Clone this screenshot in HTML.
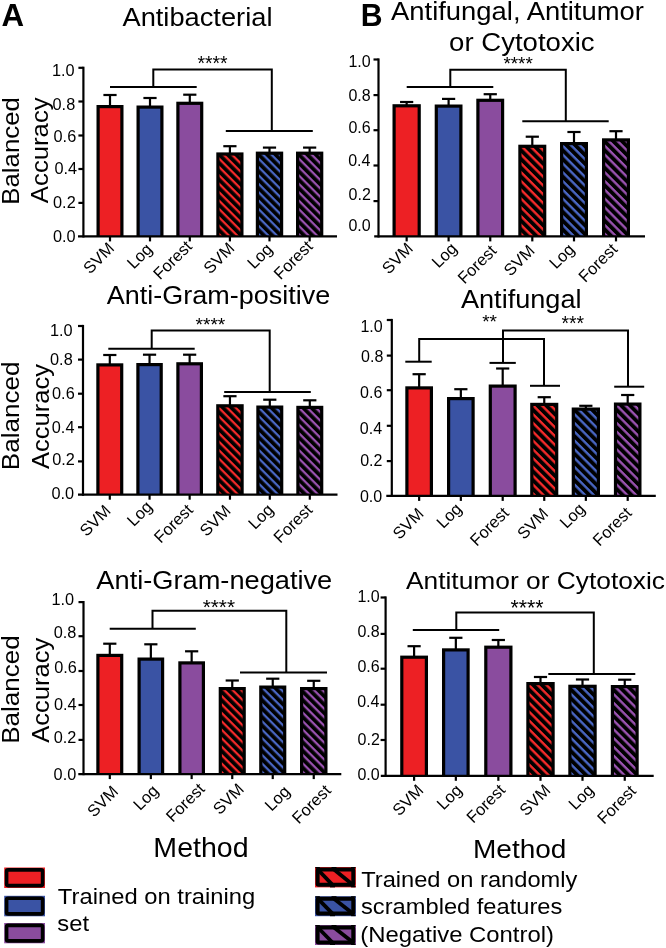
<!DOCTYPE html>
<html><head><meta charset="utf-8"><style>
html,body{margin:0;padding:0;background:#fff;}
svg{display:block;will-change:transform;}
</style></head><body>
<svg width="666" height="948" viewBox="0 0 666 948" font-family='"Liberation Sans", sans-serif' fill="#000">
<defs>
</defs>
<rect width="666" height="948" fill="#fff"/>
<rect x="96.50" y="105.00" width="27.00" height="131.40" fill="#000"/>
<rect x="99.70" y="108.20" width="20.60" height="128.20" fill="#ED2024"/>
<line x1="110.00" y1="95.00" x2="110.00" y2="106.00" stroke="#000" stroke-width="2.2"/>
<line x1="103.40" y1="95.00" x2="116.60" y2="95.00" stroke="#000" stroke-width="2.2"/>
<rect x="136.50" y="105.50" width="27.00" height="130.90" fill="#000"/>
<rect x="139.70" y="108.70" width="20.60" height="127.70" fill="#3A53A4"/>
<line x1="150.00" y1="98.00" x2="150.00" y2="106.50" stroke="#000" stroke-width="2.2"/>
<line x1="143.40" y1="98.00" x2="156.60" y2="98.00" stroke="#000" stroke-width="2.2"/>
<rect x="176.30" y="101.70" width="27.00" height="134.70" fill="#000"/>
<rect x="179.50" y="104.90" width="20.60" height="131.50" fill="#8A4C9E"/>
<line x1="189.80" y1="94.70" x2="189.80" y2="102.70" stroke="#000" stroke-width="2.2"/>
<line x1="183.20" y1="94.70" x2="196.40" y2="94.70" stroke="#000" stroke-width="2.2"/>
<rect x="216.30" y="152.40" width="27.20" height="84.00" fill="#000"/>
<pattern id="ha13" patternUnits="userSpaceOnUse" x="0" y="1.311" width="5.940" height="5.940" patternTransform="translate(216.30 236.40) rotate(45)"><rect width="5.940" height="5.940" fill="#000"/><rect y="0" width="5.940" height="2.257" fill="#F52A2A"/></pattern>
<rect x="219.50" y="155.60" width="20.80" height="80.80" fill="url(#ha13)"/>
<line x1="229.90" y1="146.20" x2="229.90" y2="153.40" stroke="#000" stroke-width="2.2"/>
<line x1="223.30" y1="146.20" x2="236.50" y2="146.20" stroke="#000" stroke-width="2.2"/>
<rect x="255.80" y="151.60" width="27.40" height="84.80" fill="#000"/>
<pattern id="ha14" patternUnits="userSpaceOnUse" x="0" y="1.311" width="5.940" height="5.940" patternTransform="translate(255.80 236.40) rotate(45)"><rect width="5.940" height="5.940" fill="#000"/><rect y="0" width="5.940" height="2.257" fill="#4A67C4"/></pattern>
<rect x="259.00" y="154.80" width="21.00" height="81.60" fill="url(#ha14)"/>
<line x1="269.50" y1="147.60" x2="269.50" y2="152.60" stroke="#000" stroke-width="2.2"/>
<line x1="262.90" y1="147.60" x2="276.10" y2="147.60" stroke="#000" stroke-width="2.2"/>
<rect x="296.00" y="151.60" width="27.30" height="84.80" fill="#000"/>
<pattern id="ha15" patternUnits="userSpaceOnUse" x="0" y="1.311" width="5.940" height="5.940" patternTransform="translate(296.00 236.40) rotate(45)"><rect width="5.940" height="5.940" fill="#000"/><rect y="0" width="5.940" height="2.257" fill="#9A52B0"/></pattern>
<rect x="299.20" y="154.80" width="20.90" height="81.60" fill="url(#ha15)"/>
<line x1="309.65" y1="147.60" x2="309.65" y2="152.60" stroke="#000" stroke-width="2.2"/>
<line x1="303.05" y1="147.60" x2="316.25" y2="147.60" stroke="#000" stroke-width="2.2"/>
<line x1="83.40" y1="66.70" x2="83.40" y2="237.50" stroke="#000" stroke-width="2.2"/>
<line x1="78.00" y1="236.40" x2="337.00" y2="236.40" stroke="#000" stroke-width="2.2"/>
<line x1="78.40" y1="202.90" x2="83.40" y2="202.90" stroke="#000" stroke-width="2.2"/>
<line x1="78.40" y1="169.00" x2="83.40" y2="169.00" stroke="#000" stroke-width="2.2"/>
<line x1="78.40" y1="135.50" x2="83.40" y2="135.50" stroke="#000" stroke-width="2.2"/>
<line x1="78.40" y1="101.50" x2="83.40" y2="101.50" stroke="#000" stroke-width="2.2"/>
<line x1="78.40" y1="67.80" x2="83.40" y2="67.80" stroke="#000" stroke-width="2.2"/>
<line x1="110.00" y1="236.40" x2="110.00" y2="241.40" stroke="#000" stroke-width="2.2"/>
<line x1="150.00" y1="236.40" x2="150.00" y2="241.40" stroke="#000" stroke-width="2.2"/>
<line x1="189.80" y1="236.40" x2="189.80" y2="241.40" stroke="#000" stroke-width="2.2"/>
<line x1="229.90" y1="236.40" x2="229.90" y2="241.40" stroke="#000" stroke-width="2.2"/>
<line x1="269.50" y1="236.40" x2="269.50" y2="241.40" stroke="#000" stroke-width="2.2"/>
<line x1="309.65" y1="236.40" x2="309.65" y2="241.40" stroke="#000" stroke-width="2.2"/>
<text x="52.88" y="241.69" font-size="16.3">0.0</text>
<text x="53.06" y="207.79" font-size="16.3">0.2</text>
<text x="54.42" y="174.29" font-size="16.3">0.4</text>
<text x="53.56" y="141.89" font-size="16.3">0.6</text>
<text x="52.55" y="109.59" font-size="16.3">0.8</text>
<text x="51.98" y="75.69" font-size="16.3">1.0</text>
<text x="115.30" y="249.40" font-size="16.5" text-anchor="end" transform="rotate(-45 115.30 249.40)">SVM</text>
<text x="153.30" y="250.20" font-size="16.5" text-anchor="end" transform="rotate(-45 153.30 250.20)">Log</text>
<text x="193.00" y="247.40" font-size="16.5" text-anchor="end" transform="rotate(-45 193.00 247.40)">Forest</text>
<text x="235.50" y="249.40" font-size="16.5" text-anchor="end" transform="rotate(-45 235.50 249.40)">SVM</text>
<text x="273.40" y="250.20" font-size="16.5" text-anchor="end" transform="rotate(-45 273.40 250.20)">Log</text>
<text x="313.65" y="247.40" font-size="16.5" text-anchor="end" transform="rotate(-45 313.65 247.40)">Forest</text>
<polyline points="110.00,87.00 196.70,87.00" fill="none" stroke="#000" stroke-width="2.0" stroke-linejoin="miter"/>
<polyline points="153.30,87.00 153.30,69.50 271.80,69.50 271.80,131.00" fill="none" stroke="#000" stroke-width="2.0" stroke-linejoin="miter"/>
<polyline points="225.80,131.00 312.80,131.00" fill="none" stroke="#000" stroke-width="2.0" stroke-linejoin="miter"/>
<text x="197.39" y="70.24" font-size="19.41">****</text>
<rect x="96.30" y="363.30" width="27.00" height="131.40" fill="#000"/>
<rect x="99.50" y="366.50" width="20.60" height="128.20" fill="#ED2024"/>
<line x1="109.80" y1="355.00" x2="109.80" y2="364.30" stroke="#000" stroke-width="2.2"/>
<line x1="103.20" y1="355.00" x2="116.40" y2="355.00" stroke="#000" stroke-width="2.2"/>
<rect x="136.30" y="363.00" width="26.50" height="131.70" fill="#000"/>
<rect x="139.50" y="366.20" width="20.10" height="128.50" fill="#3A53A4"/>
<line x1="149.55" y1="354.70" x2="149.55" y2="364.00" stroke="#000" stroke-width="2.2"/>
<line x1="142.95" y1="354.70" x2="156.15" y2="354.70" stroke="#000" stroke-width="2.2"/>
<rect x="176.30" y="362.20" width="26.70" height="132.50" fill="#000"/>
<rect x="179.50" y="365.40" width="20.30" height="129.30" fill="#8A4C9E"/>
<line x1="189.65" y1="354.70" x2="189.65" y2="363.20" stroke="#000" stroke-width="2.2"/>
<line x1="183.05" y1="354.70" x2="196.25" y2="354.70" stroke="#000" stroke-width="2.2"/>
<rect x="216.20" y="404.20" width="27.50" height="90.50" fill="#000"/>
<pattern id="ha23" patternUnits="userSpaceOnUse" x="0" y="1.304" width="5.975" height="5.975" patternTransform="translate(216.20 494.70) rotate(45)"><rect width="5.975" height="5.975" fill="#000"/><rect y="0" width="5.975" height="2.271" fill="#F52A2A"/></pattern>
<rect x="219.40" y="407.40" width="21.10" height="87.30" fill="url(#ha23)"/>
<line x1="229.95" y1="396.20" x2="229.95" y2="405.20" stroke="#000" stroke-width="2.2"/>
<line x1="223.35" y1="396.20" x2="236.55" y2="396.20" stroke="#000" stroke-width="2.2"/>
<rect x="256.30" y="405.50" width="27.00" height="89.20" fill="#000"/>
<pattern id="ha24" patternUnits="userSpaceOnUse" x="0" y="1.304" width="5.975" height="5.975" patternTransform="translate(256.30 494.70) rotate(45)"><rect width="5.975" height="5.975" fill="#000"/><rect y="0" width="5.975" height="2.271" fill="#4A67C4"/></pattern>
<rect x="259.50" y="408.70" width="20.60" height="86.00" fill="url(#ha24)"/>
<line x1="269.80" y1="399.70" x2="269.80" y2="406.50" stroke="#000" stroke-width="2.2"/>
<line x1="263.20" y1="399.70" x2="276.40" y2="399.70" stroke="#000" stroke-width="2.2"/>
<rect x="296.30" y="405.80" width="27.00" height="88.90" fill="#000"/>
<pattern id="ha25" patternUnits="userSpaceOnUse" x="0" y="1.304" width="5.975" height="5.975" patternTransform="translate(296.30 494.70) rotate(45)"><rect width="5.975" height="5.975" fill="#000"/><rect y="0" width="5.975" height="2.271" fill="#9A52B0"/></pattern>
<rect x="299.50" y="409.00" width="20.60" height="85.70" fill="url(#ha25)"/>
<line x1="309.80" y1="400.30" x2="309.80" y2="406.80" stroke="#000" stroke-width="2.2"/>
<line x1="303.20" y1="400.30" x2="316.40" y2="400.30" stroke="#000" stroke-width="2.2"/>
<line x1="83.00" y1="324.90" x2="83.00" y2="495.80" stroke="#000" stroke-width="2.2"/>
<line x1="78.00" y1="494.70" x2="337.50" y2="494.70" stroke="#000" stroke-width="2.2"/>
<line x1="78.00" y1="461.40" x2="83.00" y2="461.40" stroke="#000" stroke-width="2.2"/>
<line x1="78.00" y1="427.20" x2="83.00" y2="427.20" stroke="#000" stroke-width="2.2"/>
<line x1="78.00" y1="393.70" x2="83.00" y2="393.70" stroke="#000" stroke-width="2.2"/>
<line x1="78.00" y1="359.60" x2="83.00" y2="359.60" stroke="#000" stroke-width="2.2"/>
<line x1="78.00" y1="326.00" x2="83.00" y2="326.00" stroke="#000" stroke-width="2.2"/>
<line x1="109.80" y1="494.70" x2="109.80" y2="499.70" stroke="#000" stroke-width="2.2"/>
<line x1="149.55" y1="494.70" x2="149.55" y2="499.70" stroke="#000" stroke-width="2.2"/>
<line x1="189.65" y1="494.70" x2="189.65" y2="499.70" stroke="#000" stroke-width="2.2"/>
<line x1="229.95" y1="494.70" x2="229.95" y2="499.70" stroke="#000" stroke-width="2.2"/>
<line x1="269.80" y1="494.70" x2="269.80" y2="499.70" stroke="#000" stroke-width="2.2"/>
<line x1="309.80" y1="494.70" x2="309.80" y2="499.70" stroke="#000" stroke-width="2.2"/>
<text x="51.48" y="499.09" font-size="16.3">0.0</text>
<text x="52.16" y="464.69" font-size="16.3">0.2</text>
<text x="51.82" y="432.89" font-size="16.3">0.4</text>
<text x="52.06" y="398.59" font-size="16.3">0.6</text>
<text x="50.05" y="364.59" font-size="16.3">0.8</text>
<text x="49.98" y="335.69" font-size="16.3">1.0</text>
<text x="111.80" y="511.90" font-size="16.5" text-anchor="end" transform="rotate(-45 111.80 511.90)">SVM</text>
<text x="153.25" y="507.70" font-size="16.5" text-anchor="end" transform="rotate(-45 153.25 507.70)">Log</text>
<text x="193.92" y="510.90" font-size="16.5" text-anchor="end" transform="rotate(-45 193.92 510.90)">Forest</text>
<text x="231.85" y="511.90" font-size="16.5" text-anchor="end" transform="rotate(-45 231.85 511.90)">SVM</text>
<text x="274.50" y="510.70" font-size="16.5" text-anchor="end" transform="rotate(-45 274.50 510.70)">Log</text>
<text x="313.40" y="510.90" font-size="16.5" text-anchor="end" transform="rotate(-45 313.40 510.90)">Forest</text>
<polyline points="108.30,348.70 194.70,348.70" fill="none" stroke="#000" stroke-width="2.0" stroke-linejoin="miter"/>
<polyline points="151.70,348.70 151.70,330.50 269.70,330.50 269.70,392.00" fill="none" stroke="#000" stroke-width="2.0" stroke-linejoin="miter"/>
<polyline points="224.20,392.00 310.80,392.00" fill="none" stroke="#000" stroke-width="2.0" stroke-linejoin="miter"/>
<text x="195.49" y="331.45" font-size="19.15">****</text>
<rect x="96.30" y="653.80" width="27.00" height="120.30" fill="#000"/>
<rect x="99.50" y="657.00" width="20.60" height="117.10" fill="#ED2024"/>
<line x1="109.80" y1="643.70" x2="109.80" y2="654.80" stroke="#000" stroke-width="2.2"/>
<line x1="103.20" y1="643.70" x2="116.40" y2="643.70" stroke="#000" stroke-width="2.2"/>
<rect x="137.50" y="657.50" width="26.70" height="116.60" fill="#000"/>
<rect x="140.70" y="660.70" width="20.30" height="113.40" fill="#3A53A4"/>
<line x1="150.85" y1="644.30" x2="150.85" y2="658.50" stroke="#000" stroke-width="2.2"/>
<line x1="144.25" y1="644.30" x2="157.45" y2="644.30" stroke="#000" stroke-width="2.2"/>
<rect x="178.30" y="661.30" width="26.70" height="112.80" fill="#000"/>
<rect x="181.50" y="664.50" width="20.30" height="109.60" fill="#8A4C9E"/>
<line x1="191.65" y1="651.30" x2="191.65" y2="662.30" stroke="#000" stroke-width="2.2"/>
<line x1="185.05" y1="651.30" x2="198.25" y2="651.30" stroke="#000" stroke-width="2.2"/>
<rect x="218.70" y="687.00" width="27.10" height="87.10" fill="#000"/>
<pattern id="ha33" patternUnits="userSpaceOnUse" x="0" y="1.304" width="5.975" height="5.975" patternTransform="translate(218.70 774.10) rotate(45)"><rect width="5.975" height="5.975" fill="#000"/><rect y="0" width="5.975" height="2.271" fill="#F52A2A"/></pattern>
<rect x="221.90" y="690.20" width="20.70" height="83.90" fill="url(#ha33)"/>
<line x1="232.25" y1="680.50" x2="232.25" y2="688.00" stroke="#000" stroke-width="2.2"/>
<line x1="225.65" y1="680.50" x2="238.85" y2="680.50" stroke="#000" stroke-width="2.2"/>
<rect x="259.20" y="685.50" width="27.10" height="88.60" fill="#000"/>
<pattern id="ha34" patternUnits="userSpaceOnUse" x="0" y="1.304" width="5.975" height="5.975" patternTransform="translate(259.20 774.10) rotate(45)"><rect width="5.975" height="5.975" fill="#000"/><rect y="0" width="5.975" height="2.271" fill="#4A67C4"/></pattern>
<rect x="262.40" y="688.70" width="20.70" height="85.40" fill="url(#ha34)"/>
<line x1="272.75" y1="678.70" x2="272.75" y2="686.50" stroke="#000" stroke-width="2.2"/>
<line x1="266.15" y1="678.70" x2="279.35" y2="678.70" stroke="#000" stroke-width="2.2"/>
<rect x="300.00" y="687.00" width="27.50" height="87.10" fill="#000"/>
<pattern id="ha35" patternUnits="userSpaceOnUse" x="0" y="1.304" width="5.975" height="5.975" patternTransform="translate(300.00 774.10) rotate(45)"><rect width="5.975" height="5.975" fill="#000"/><rect y="0" width="5.975" height="2.271" fill="#9A52B0"/></pattern>
<rect x="303.20" y="690.20" width="21.10" height="83.90" fill="url(#ha35)"/>
<line x1="313.75" y1="680.80" x2="313.75" y2="688.00" stroke="#000" stroke-width="2.2"/>
<line x1="307.15" y1="680.80" x2="320.35" y2="680.80" stroke="#000" stroke-width="2.2"/>
<line x1="83.50" y1="601.00" x2="83.50" y2="775.20" stroke="#000" stroke-width="2.2"/>
<line x1="78.30" y1="774.10" x2="341.30" y2="774.10" stroke="#000" stroke-width="2.2"/>
<line x1="78.50" y1="739.90" x2="83.50" y2="739.90" stroke="#000" stroke-width="2.2"/>
<line x1="78.50" y1="705.00" x2="83.50" y2="705.00" stroke="#000" stroke-width="2.2"/>
<line x1="78.50" y1="671.00" x2="83.50" y2="671.00" stroke="#000" stroke-width="2.2"/>
<line x1="78.50" y1="636.20" x2="83.50" y2="636.20" stroke="#000" stroke-width="2.2"/>
<line x1="78.50" y1="602.10" x2="83.50" y2="602.10" stroke="#000" stroke-width="2.2"/>
<line x1="109.80" y1="774.10" x2="109.80" y2="779.10" stroke="#000" stroke-width="2.2"/>
<line x1="150.85" y1="774.10" x2="150.85" y2="779.10" stroke="#000" stroke-width="2.2"/>
<line x1="191.65" y1="774.10" x2="191.65" y2="779.10" stroke="#000" stroke-width="2.2"/>
<line x1="232.25" y1="774.10" x2="232.25" y2="779.10" stroke="#000" stroke-width="2.2"/>
<line x1="272.75" y1="774.10" x2="272.75" y2="779.10" stroke="#000" stroke-width="2.2"/>
<line x1="313.75" y1="774.10" x2="313.75" y2="779.10" stroke="#000" stroke-width="2.2"/>
<text x="53.58" y="780.39" font-size="16.3">0.0</text>
<text x="53.76" y="742.89" font-size="16.3">0.2</text>
<text x="53.92" y="709.69" font-size="16.3">0.4</text>
<text x="54.16" y="673.19" font-size="16.3">0.6</text>
<text x="53.65" y="637.89" font-size="16.3">0.8</text>
<text x="51.48" y="604.69" font-size="16.3">1.0</text>
<text x="119.30" y="792.60" font-size="16.5" text-anchor="end" transform="rotate(-45 119.30 792.60)">SVM</text>
<text x="159.45" y="791.80" font-size="16.5" text-anchor="end" transform="rotate(-45 159.45 791.80)">Log</text>
<text x="205.75" y="790.00" font-size="16.5" text-anchor="end" transform="rotate(-45 205.75 790.00)">Forest</text>
<text x="245.05" y="790.20" font-size="16.5" text-anchor="end" transform="rotate(-45 245.05 790.20)">SVM</text>
<text x="290.95" y="792.60" font-size="16.5" text-anchor="end" transform="rotate(-45 290.95 792.60)">Log</text>
<text x="331.95" y="791.60" font-size="16.5" text-anchor="end" transform="rotate(-45 331.95 791.60)">Forest</text>
<polyline points="109.70,628.70 195.80,628.70" fill="none" stroke="#000" stroke-width="2.0" stroke-linejoin="miter"/>
<polyline points="152.50,628.70 152.50,610.80 286.30,610.80 286.30,672.50" fill="none" stroke="#000" stroke-width="2.0" stroke-linejoin="miter"/>
<polyline points="240.00,672.50 327.00,672.50" fill="none" stroke="#000" stroke-width="2.0" stroke-linejoin="miter"/>
<text x="202.67" y="613.60" font-size="20.79">****</text>
<rect x="392.50" y="104.20" width="28.30" height="132.20" fill="#000"/>
<rect x="395.70" y="107.40" width="21.90" height="129.00" fill="#ED2024"/>
<line x1="406.65" y1="102.00" x2="406.65" y2="105.20" stroke="#000" stroke-width="2.2"/>
<line x1="400.05" y1="102.00" x2="413.25" y2="102.00" stroke="#000" stroke-width="2.2"/>
<rect x="434.70" y="104.50" width="27.80" height="131.90" fill="#000"/>
<rect x="437.90" y="107.70" width="21.40" height="128.70" fill="#3A53A4"/>
<line x1="448.60" y1="98.90" x2="448.60" y2="105.50" stroke="#000" stroke-width="2.2"/>
<line x1="442.00" y1="98.90" x2="455.20" y2="98.90" stroke="#000" stroke-width="2.2"/>
<rect x="476.30" y="98.70" width="27.90" height="137.70" fill="#000"/>
<rect x="479.50" y="101.90" width="21.50" height="134.50" fill="#8A4C9E"/>
<line x1="490.25" y1="94.20" x2="490.25" y2="99.70" stroke="#000" stroke-width="2.2"/>
<line x1="483.65" y1="94.20" x2="496.85" y2="94.20" stroke="#000" stroke-width="2.2"/>
<rect x="518.30" y="144.70" width="28.00" height="91.70" fill="#000"/>
<pattern id="hb13" patternUnits="userSpaceOnUse" x="0" y="1.257" width="6.223" height="6.223" patternTransform="translate(518.30 236.40) rotate(45)"><rect width="6.223" height="6.223" fill="#000"/><rect y="0" width="6.223" height="2.365" fill="#F52A2A"/></pattern>
<rect x="521.50" y="147.90" width="21.60" height="88.50" fill="url(#hb13)"/>
<line x1="532.30" y1="136.70" x2="532.30" y2="145.70" stroke="#000" stroke-width="2.2"/>
<line x1="525.70" y1="136.70" x2="538.90" y2="136.70" stroke="#000" stroke-width="2.2"/>
<rect x="560.00" y="142.00" width="28.00" height="94.40" fill="#000"/>
<pattern id="hb14" patternUnits="userSpaceOnUse" x="0" y="1.257" width="6.223" height="6.223" patternTransform="translate(560.00 236.40) rotate(45)"><rect width="6.223" height="6.223" fill="#000"/><rect y="0" width="6.223" height="2.365" fill="#4A67C4"/></pattern>
<rect x="563.20" y="145.20" width="21.60" height="91.20" fill="url(#hb14)"/>
<line x1="574.00" y1="132.00" x2="574.00" y2="143.00" stroke="#000" stroke-width="2.2"/>
<line x1="567.40" y1="132.00" x2="580.60" y2="132.00" stroke="#000" stroke-width="2.2"/>
<rect x="602.00" y="138.30" width="28.00" height="98.10" fill="#000"/>
<pattern id="hb15" patternUnits="userSpaceOnUse" x="0" y="1.257" width="6.223" height="6.223" patternTransform="translate(602.00 236.40) rotate(45)"><rect width="6.223" height="6.223" fill="#000"/><rect y="0" width="6.223" height="2.365" fill="#9A52B0"/></pattern>
<rect x="605.20" y="141.50" width="21.60" height="94.90" fill="url(#hb15)"/>
<line x1="616.00" y1="131.20" x2="616.00" y2="139.30" stroke="#000" stroke-width="2.2"/>
<line x1="609.40" y1="131.20" x2="622.60" y2="131.20" stroke="#000" stroke-width="2.2"/>
<line x1="378.50" y1="58.40" x2="378.50" y2="237.50" stroke="#000" stroke-width="2.2"/>
<line x1="374.20" y1="236.40" x2="645.00" y2="236.40" stroke="#000" stroke-width="2.2"/>
<line x1="373.50" y1="201.10" x2="378.50" y2="201.10" stroke="#000" stroke-width="2.2"/>
<line x1="373.50" y1="165.50" x2="378.50" y2="165.50" stroke="#000" stroke-width="2.2"/>
<line x1="373.50" y1="130.20" x2="378.50" y2="130.20" stroke="#000" stroke-width="2.2"/>
<line x1="373.50" y1="95.10" x2="378.50" y2="95.10" stroke="#000" stroke-width="2.2"/>
<line x1="373.50" y1="59.50" x2="378.50" y2="59.50" stroke="#000" stroke-width="2.2"/>
<line x1="406.65" y1="236.40" x2="406.65" y2="241.40" stroke="#000" stroke-width="2.2"/>
<line x1="448.60" y1="236.40" x2="448.60" y2="241.40" stroke="#000" stroke-width="2.2"/>
<line x1="490.25" y1="236.40" x2="490.25" y2="241.40" stroke="#000" stroke-width="2.2"/>
<line x1="532.30" y1="236.40" x2="532.30" y2="241.40" stroke="#000" stroke-width="2.2"/>
<line x1="574.00" y1="236.40" x2="574.00" y2="241.40" stroke="#000" stroke-width="2.2"/>
<line x1="616.00" y1="236.40" x2="616.00" y2="241.40" stroke="#000" stroke-width="2.2"/>
<text x="348.38" y="231.29" font-size="16">0.0</text>
<text x="348.56" y="200.19" font-size="16">0.2</text>
<text x="348.23" y="165.59" font-size="16">0.4</text>
<text x="348.46" y="133.19" font-size="16">0.6</text>
<text x="348.45" y="101.19" font-size="16">0.8</text>
<text x="348.38" y="67.39" font-size="16">1.0</text>
<text x="413.95" y="249.60" font-size="16.5" text-anchor="end" transform="rotate(-45 413.95 249.60)">SVM</text>
<text x="458.10" y="249.40" font-size="16.5" text-anchor="end" transform="rotate(-45 458.10 249.40)">Log</text>
<text x="497.55" y="251.80" font-size="16.5" text-anchor="end" transform="rotate(-45 497.55 251.80)">Forest</text>
<text x="535.80" y="251.80" font-size="16.5" text-anchor="end" transform="rotate(-45 535.80 251.80)">SVM</text>
<text x="575.40" y="250.40" font-size="16.5" text-anchor="end" transform="rotate(-45 575.40 250.40)">Log</text>
<text x="618.40" y="250.20" font-size="16.5" text-anchor="end" transform="rotate(-45 618.40 250.20)">Forest</text>
<polyline points="406.70,87.00 493.30,87.00" fill="none" stroke="#000" stroke-width="2.0" stroke-linejoin="miter"/>
<polyline points="450.30,87.00 450.30,69.70 565.80,69.70 565.80,121.30" fill="none" stroke="#000" stroke-width="2.0" stroke-linejoin="miter"/>
<polyline points="522.30,121.30 608.70,121.30" fill="none" stroke="#000" stroke-width="2.0" stroke-linejoin="miter"/>
<text x="503.40" y="70.16" font-size="18.89">****</text>
<rect x="405.30" y="386.30" width="27.70" height="109.60" fill="#000"/>
<rect x="408.50" y="389.50" width="21.30" height="106.40" fill="#ED2024"/>
<line x1="419.15" y1="374.20" x2="419.15" y2="387.30" stroke="#000" stroke-width="2.2"/>
<line x1="412.55" y1="374.20" x2="425.75" y2="374.20" stroke="#000" stroke-width="2.2"/>
<rect x="447.00" y="397.00" width="27.70" height="98.90" fill="#000"/>
<rect x="450.20" y="400.20" width="21.30" height="95.70" fill="#3A53A4"/>
<line x1="460.85" y1="389.20" x2="460.85" y2="398.00" stroke="#000" stroke-width="2.2"/>
<line x1="454.25" y1="389.20" x2="467.45" y2="389.20" stroke="#000" stroke-width="2.2"/>
<rect x="488.70" y="384.50" width="28.00" height="111.40" fill="#000"/>
<rect x="491.90" y="387.70" width="21.60" height="108.20" fill="#8A4C9E"/>
<line x1="502.70" y1="368.50" x2="502.70" y2="385.50" stroke="#000" stroke-width="2.2"/>
<line x1="496.10" y1="368.50" x2="509.30" y2="368.50" stroke="#000" stroke-width="2.2"/>
<rect x="530.20" y="402.80" width="28.10" height="93.10" fill="#000"/>
<pattern id="hb23" patternUnits="userSpaceOnUse" x="0" y="1.257" width="6.223" height="6.223" patternTransform="translate(530.20 495.90) rotate(45)"><rect width="6.223" height="6.223" fill="#000"/><rect y="0" width="6.223" height="2.365" fill="#F52A2A"/></pattern>
<rect x="533.40" y="406.00" width="21.70" height="89.90" fill="url(#hb23)"/>
<line x1="544.25" y1="397.20" x2="544.25" y2="403.80" stroke="#000" stroke-width="2.2"/>
<line x1="537.65" y1="397.20" x2="550.85" y2="397.20" stroke="#000" stroke-width="2.2"/>
<rect x="571.70" y="407.50" width="28.30" height="88.40" fill="#000"/>
<pattern id="hb24" patternUnits="userSpaceOnUse" x="0" y="1.257" width="6.223" height="6.223" patternTransform="translate(571.70 495.90) rotate(45)"><rect width="6.223" height="6.223" fill="#000"/><rect y="0" width="6.223" height="2.365" fill="#4A67C4"/></pattern>
<rect x="574.90" y="410.70" width="21.90" height="85.20" fill="url(#hb24)"/>
<line x1="585.85" y1="405.80" x2="585.85" y2="408.50" stroke="#000" stroke-width="2.2"/>
<line x1="579.25" y1="405.80" x2="592.45" y2="405.80" stroke="#000" stroke-width="2.2"/>
<rect x="613.90" y="402.50" width="27.60" height="93.40" fill="#000"/>
<pattern id="hb25" patternUnits="userSpaceOnUse" x="0" y="1.257" width="6.223" height="6.223" patternTransform="translate(613.90 495.90) rotate(45)"><rect width="6.223" height="6.223" fill="#000"/><rect y="0" width="6.223" height="2.365" fill="#9A52B0"/></pattern>
<rect x="617.10" y="405.70" width="21.20" height="90.20" fill="url(#hb25)"/>
<line x1="627.70" y1="395.00" x2="627.70" y2="403.50" stroke="#000" stroke-width="2.2"/>
<line x1="621.10" y1="395.00" x2="634.30" y2="395.00" stroke="#000" stroke-width="2.2"/>
<line x1="391.80" y1="318.90" x2="391.80" y2="497.00" stroke="#000" stroke-width="2.2"/>
<line x1="386.30" y1="495.90" x2="655.80" y2="495.90" stroke="#000" stroke-width="2.2"/>
<line x1="386.80" y1="461.10" x2="391.80" y2="461.10" stroke="#000" stroke-width="2.2"/>
<line x1="386.80" y1="425.80" x2="391.80" y2="425.80" stroke="#000" stroke-width="2.2"/>
<line x1="386.80" y1="390.20" x2="391.80" y2="390.20" stroke="#000" stroke-width="2.2"/>
<line x1="386.80" y1="355.60" x2="391.80" y2="355.60" stroke="#000" stroke-width="2.2"/>
<line x1="386.80" y1="320.00" x2="391.80" y2="320.00" stroke="#000" stroke-width="2.2"/>
<line x1="419.15" y1="495.90" x2="419.15" y2="500.90" stroke="#000" stroke-width="2.2"/>
<line x1="460.85" y1="495.90" x2="460.85" y2="500.90" stroke="#000" stroke-width="2.2"/>
<line x1="502.70" y1="495.90" x2="502.70" y2="500.90" stroke="#000" stroke-width="2.2"/>
<line x1="544.25" y1="495.90" x2="544.25" y2="500.90" stroke="#000" stroke-width="2.2"/>
<line x1="585.85" y1="495.90" x2="585.85" y2="500.90" stroke="#000" stroke-width="2.2"/>
<line x1="627.70" y1="495.90" x2="627.70" y2="500.90" stroke="#000" stroke-width="2.2"/>
<text x="359.88" y="502.29" font-size="16">0.0</text>
<text x="360.16" y="466.19" font-size="16">0.2</text>
<text x="359.83" y="433.59" font-size="16">0.4</text>
<text x="360.06" y="397.79" font-size="16">0.6</text>
<text x="361.05" y="362.19" font-size="16">0.8</text>
<text x="360.38" y="331.59" font-size="16">1.0</text>
<text x="424.75" y="514.90" font-size="16.5" text-anchor="end" transform="rotate(-45 424.75 514.90)">SVM</text>
<text x="462.75" y="509.90" font-size="16.5" text-anchor="end" transform="rotate(-45 462.75 509.90)">Log</text>
<text x="509.94" y="513.90" font-size="16.5" text-anchor="end" transform="rotate(-45 509.94 513.90)">Forest</text>
<text x="549.35" y="514.90" font-size="16.5" text-anchor="end" transform="rotate(-45 549.35 514.90)">SVM</text>
<text x="585.95" y="509.90" font-size="16.5" text-anchor="end" transform="rotate(-45 585.95 509.90)">Log</text>
<text x="632.67" y="513.90" font-size="16.5" text-anchor="end" transform="rotate(-45 632.67 513.90)">Forest</text>
<polyline points="405.30,361.70 431.70,361.70" fill="none" stroke="#000" stroke-width="2.0" stroke-linejoin="miter"/>
<polyline points="419.20,361.70 419.20,339.00 544.00,339.00 544.00,385.80" fill="none" stroke="#000" stroke-width="2.0" stroke-linejoin="miter"/>
<polyline points="530.00,385.80 560.00,385.80" fill="none" stroke="#000" stroke-width="2.0" stroke-linejoin="miter"/>
<polyline points="489.50,362.90 515.80,362.90" fill="none" stroke="#000" stroke-width="2.0" stroke-linejoin="miter"/>
<polyline points="503.00,362.90 503.00,330.40 628.00,330.40 628.00,386.70" fill="none" stroke="#000" stroke-width="2.0" stroke-linejoin="miter"/>
<polyline points="614.20,386.70 644.20,386.70" fill="none" stroke="#000" stroke-width="2.0" stroke-linejoin="miter"/>
<text x="482.19" y="328.01" font-size="19.02">**</text>
<text x="561.39" y="329.83" font-size="19.37">***</text>
<rect x="400.20" y="655.60" width="27.80" height="120.20" fill="#000"/>
<rect x="403.40" y="658.80" width="21.40" height="117.00" fill="#ED2024"/>
<line x1="414.10" y1="646.20" x2="414.10" y2="656.60" stroke="#000" stroke-width="2.2"/>
<line x1="407.50" y1="646.20" x2="420.70" y2="646.20" stroke="#000" stroke-width="2.2"/>
<rect x="442.00" y="648.30" width="27.70" height="127.50" fill="#000"/>
<rect x="445.20" y="651.50" width="21.30" height="124.30" fill="#3A53A4"/>
<line x1="455.85" y1="637.80" x2="455.85" y2="649.30" stroke="#000" stroke-width="2.2"/>
<line x1="449.25" y1="637.80" x2="462.45" y2="637.80" stroke="#000" stroke-width="2.2"/>
<rect x="484.20" y="645.60" width="28.30" height="130.20" fill="#000"/>
<rect x="487.40" y="648.80" width="21.90" height="127.00" fill="#8A4C9E"/>
<line x1="498.35" y1="640.00" x2="498.35" y2="646.60" stroke="#000" stroke-width="2.2"/>
<line x1="491.75" y1="640.00" x2="504.95" y2="640.00" stroke="#000" stroke-width="2.2"/>
<rect x="526.30" y="682.00" width="28.40" height="93.80" fill="#000"/>
<pattern id="hb33" patternUnits="userSpaceOnUse" x="0" y="1.257" width="6.223" height="6.223" patternTransform="translate(526.30 775.80) rotate(45)"><rect width="6.223" height="6.223" fill="#000"/><rect y="0" width="6.223" height="2.365" fill="#F52A2A"/></pattern>
<rect x="529.50" y="685.20" width="22.00" height="90.60" fill="url(#hb33)"/>
<line x1="540.50" y1="677.00" x2="540.50" y2="683.00" stroke="#000" stroke-width="2.2"/>
<line x1="533.90" y1="677.00" x2="547.10" y2="677.00" stroke="#000" stroke-width="2.2"/>
<rect x="568.30" y="684.70" width="28.40" height="91.10" fill="#000"/>
<pattern id="hb34" patternUnits="userSpaceOnUse" x="0" y="1.257" width="6.223" height="6.223" patternTransform="translate(568.30 775.80) rotate(45)"><rect width="6.223" height="6.223" fill="#000"/><rect y="0" width="6.223" height="2.365" fill="#4A67C4"/></pattern>
<rect x="571.50" y="687.90" width="22.00" height="87.90" fill="url(#hb34)"/>
<line x1="582.50" y1="679.50" x2="582.50" y2="685.70" stroke="#000" stroke-width="2.2"/>
<line x1="575.90" y1="679.50" x2="589.10" y2="679.50" stroke="#000" stroke-width="2.2"/>
<rect x="610.80" y="685.00" width="27.90" height="90.80" fill="#000"/>
<pattern id="hb35" patternUnits="userSpaceOnUse" x="0" y="1.257" width="6.223" height="6.223" patternTransform="translate(610.80 775.80) rotate(45)"><rect width="6.223" height="6.223" fill="#000"/><rect y="0" width="6.223" height="2.365" fill="#9A52B0"/></pattern>
<rect x="614.00" y="688.20" width="21.50" height="87.60" fill="url(#hb35)"/>
<line x1="624.75" y1="679.70" x2="624.75" y2="686.00" stroke="#000" stroke-width="2.2"/>
<line x1="618.15" y1="679.70" x2="631.35" y2="679.70" stroke="#000" stroke-width="2.2"/>
<line x1="385.60" y1="596.40" x2="385.60" y2="776.90" stroke="#000" stroke-width="2.2"/>
<line x1="380.80" y1="775.80" x2="653.70" y2="775.80" stroke="#000" stroke-width="2.2"/>
<line x1="380.60" y1="740.00" x2="385.60" y2="740.00" stroke="#000" stroke-width="2.2"/>
<line x1="380.60" y1="704.70" x2="385.60" y2="704.70" stroke="#000" stroke-width="2.2"/>
<line x1="380.60" y1="668.70" x2="385.60" y2="668.70" stroke="#000" stroke-width="2.2"/>
<line x1="380.60" y1="633.90" x2="385.60" y2="633.90" stroke="#000" stroke-width="2.2"/>
<line x1="380.60" y1="597.50" x2="385.60" y2="597.50" stroke="#000" stroke-width="2.2"/>
<line x1="414.10" y1="775.80" x2="414.10" y2="780.80" stroke="#000" stroke-width="2.2"/>
<line x1="455.85" y1="775.80" x2="455.85" y2="780.80" stroke="#000" stroke-width="2.2"/>
<line x1="498.35" y1="775.80" x2="498.35" y2="780.80" stroke="#000" stroke-width="2.2"/>
<line x1="540.50" y1="775.80" x2="540.50" y2="780.80" stroke="#000" stroke-width="2.2"/>
<line x1="582.50" y1="775.80" x2="582.50" y2="780.80" stroke="#000" stroke-width="2.2"/>
<line x1="624.75" y1="775.80" x2="624.75" y2="780.80" stroke="#000" stroke-width="2.2"/>
<text x="357.38" y="780.39" font-size="16">0.0</text>
<text x="357.56" y="745.19" font-size="16">0.2</text>
<text x="357.23" y="707.29" font-size="16">0.4</text>
<text x="357.46" y="672.29" font-size="16">0.6</text>
<text x="357.45" y="636.69" font-size="16">0.8</text>
<text x="357.38" y="601.59" font-size="16">1.0</text>
<text x="424.50" y="791.40" font-size="16.5" text-anchor="end" transform="rotate(-45 424.50 791.40)">SVM</text>
<text x="463.05" y="791.20" font-size="16.5" text-anchor="end" transform="rotate(-45 463.05 791.20)">Log</text>
<text x="506.35" y="791.00" font-size="16.5" text-anchor="end" transform="rotate(-45 506.35 791.00)">Forest</text>
<text x="551.50" y="791.40" font-size="16.5" text-anchor="end" transform="rotate(-45 551.50 791.40)">SVM</text>
<text x="594.80" y="791.20" font-size="16.5" text-anchor="end" transform="rotate(-45 594.80 791.20)">Log</text>
<text x="637.05" y="792.00" font-size="16.5" text-anchor="end" transform="rotate(-45 637.05 792.00)">Forest</text>
<polyline points="412.80,630.00 499.20,630.00" fill="none" stroke="#000" stroke-width="2.0" stroke-linejoin="miter"/>
<polyline points="456.30,630.00 456.30,612.50 593.80,612.50 593.80,674.00" fill="none" stroke="#000" stroke-width="2.0" stroke-linejoin="miter"/>
<polyline points="548.30,674.00 635.30,674.00" fill="none" stroke="#000" stroke-width="2.0" stroke-linejoin="miter"/>
<text x="510.46" y="614.98" font-size="21.31">****</text>
<text x="122.45" y="25.70" font-size="27.27" transform="matrix(1 0 0 0.94 0 1.542)" >Antibacterial</text>
<text x="106.85" y="303.70" font-size="26.99" transform="matrix(1 0 0 0.94 0 18.222)" >Anti-Gram-positive</text>
<text x="96.35" y="588.60" font-size="27.22" transform="matrix(1 0 0 0.94 0 35.316)" >Anti-Gram-negative</text>
<text x="391.05" y="19.50" font-size="27.41" transform="matrix(1 0 0 0.94 0 1.170)" >Antifungal, Antitumor</text>
<text x="449.14" y="51.40" font-size="27.56" transform="matrix(1 0 0 0.94 0 3.084)" >or Cytotoxic</text>
<text x="460.95" y="308.20" font-size="27.13" transform="matrix(1 0 0 0.94 0 18.492)" >Antifungal</text>
<text x="405.95" y="588.80" font-size="26.35" transform="matrix(1 0 0 0.94 0 35.328)" >Antitumor or Cytotoxic</text>
<text x="1.52" y="25.90" font-size="30.80" font-weight="bold" textLength="22.60" lengthAdjust="spacingAndGlyphs">A</text>
<text x="360.68" y="25.90" font-size="30.80" font-weight="bold" textLength="21.79" lengthAdjust="spacingAndGlyphs">B</text>
<text x="153.36" y="856.90" font-size="28.57" transform="matrix(1 0 0 0.94 0 51.414)" >Method</text>
<text x="473.00" y="857.90" font-size="28.03" transform="matrix(1 0 0 0.94 0 51.474)" >Method</text>
<text x="0" y="0" font-size="25.82" transform="translate(19.00 204.72) rotate(-90) scale(1 0.94)">Balanced</text>
<text x="0" y="0" font-size="25.73" transform="translate(48.30 203.15) rotate(-90) scale(1 0.94)">Accuracy</text>
<text x="0" y="0" font-size="26.05" transform="translate(19.00 470.14) rotate(-90) scale(1 0.94)">Balanced</text>
<text x="0" y="0" font-size="25.53" transform="translate(49.30 468.95) rotate(-90) scale(1 0.94)">Accuracy</text>
<text x="0" y="0" font-size="26.05" transform="translate(19.00 743.84) rotate(-90) scale(1 0.94)">Balanced</text>
<text x="0" y="0" font-size="25.51" transform="translate(49.30 742.65) rotate(-90) scale(1 0.94)">Accuracy</text>
<rect x="4.20" y="867.50" width="40.80" height="20.50" fill="#ED2024"/>
<rect x="6.60" y="869.90" width="36.00" height="15.70" rx="1.5" fill="none" stroke="#000" stroke-width="3.6"/>
<rect x="4.20" y="895.80" width="40.80" height="20.50" fill="#3A53A4"/>
<rect x="6.60" y="898.20" width="36.00" height="15.70" rx="1.5" fill="none" stroke="#000" stroke-width="3.6"/>
<rect x="4.20" y="923.00" width="40.80" height="20.30" fill="#8A4C9E"/>
<rect x="6.60" y="925.40" width="36.00" height="15.50" rx="1.5" fill="none" stroke="#000" stroke-width="3.6"/>
<rect x="315.00" y="867.00" width="40.90" height="20.40" fill="#ED2024"/>
<rect x="317.60" y="869.60" width="35.70" height="15.20" rx="1.0" fill="none" stroke="#000" stroke-width="4.0"/>
<line x1="317.80" y1="869.50" x2="332.50" y2="884.90" stroke="#000" stroke-width="3.8"/>
<line x1="334.00" y1="869.50" x2="353.10" y2="884.90" stroke="#000" stroke-width="3.8"/>
<rect x="331.50" y="867.00" width="5.00" height="1.50" fill="#000"/>
<rect x="330.00" y="885.90" width="5.00" height="1.50" fill="#000"/>
<rect x="351.10" y="885.90" width="4.40" height="1.50" fill="#000"/>
<rect x="351.10" y="867.00" width="4.40" height="1.50" fill="#000"/>
<rect x="315.40" y="867.00" width="4.40" height="1.50" fill="#000"/>
<rect x="315.00" y="896.20" width="40.90" height="20.00" fill="#3A53A4"/>
<rect x="317.60" y="898.80" width="35.70" height="14.80" rx="1.0" fill="none" stroke="#000" stroke-width="4.0"/>
<line x1="317.80" y1="898.70" x2="332.50" y2="913.70" stroke="#000" stroke-width="3.8"/>
<line x1="334.00" y1="898.70" x2="353.10" y2="913.70" stroke="#000" stroke-width="3.8"/>
<rect x="331.50" y="896.20" width="5.00" height="1.50" fill="#000"/>
<rect x="330.00" y="914.70" width="5.00" height="1.50" fill="#000"/>
<rect x="351.10" y="914.70" width="4.40" height="1.50" fill="#000"/>
<rect x="351.10" y="896.20" width="4.40" height="1.50" fill="#000"/>
<rect x="315.40" y="896.20" width="4.40" height="1.50" fill="#000"/>
<rect x="315.00" y="925.00" width="40.90" height="20.00" fill="#8A4C9E"/>
<rect x="317.60" y="927.60" width="35.70" height="14.80" rx="1.0" fill="none" stroke="#000" stroke-width="4.0"/>
<line x1="317.80" y1="927.50" x2="332.50" y2="942.50" stroke="#000" stroke-width="3.8"/>
<line x1="334.00" y1="927.50" x2="353.10" y2="942.50" stroke="#000" stroke-width="3.8"/>
<rect x="331.50" y="925.00" width="5.00" height="1.50" fill="#000"/>
<rect x="330.00" y="943.50" width="5.00" height="1.50" fill="#000"/>
<rect x="351.10" y="943.50" width="4.40" height="1.50" fill="#000"/>
<rect x="351.10" y="925.00" width="4.40" height="1.50" fill="#000"/>
<rect x="315.40" y="925.00" width="4.40" height="1.50" fill="#000"/>
<text x="57.87" y="904.00" font-size="23.79" transform="matrix(1 0 0 0.94 0 54.240)" >Trained on training</text>
<text x="57.34" y="931.00" font-size="23.79" transform="matrix(1 0 0 0.94 0 55.860)" >set</text>
<text x="361.17" y="887.20" font-size="23.67" transform="matrix(1 0 0 0.94 0 53.232)" >Trained on randomly</text>
<text x="361.04" y="914.40" font-size="23.68" transform="matrix(1 0 0 0.94 0 54.864)" >scrambled features</text>
<text x="360.22" y="942.00" font-size="23.89" transform="matrix(1 0 0 0.94 0 56.520)" >(Negative Control)</text>
</svg>
</body></html>
